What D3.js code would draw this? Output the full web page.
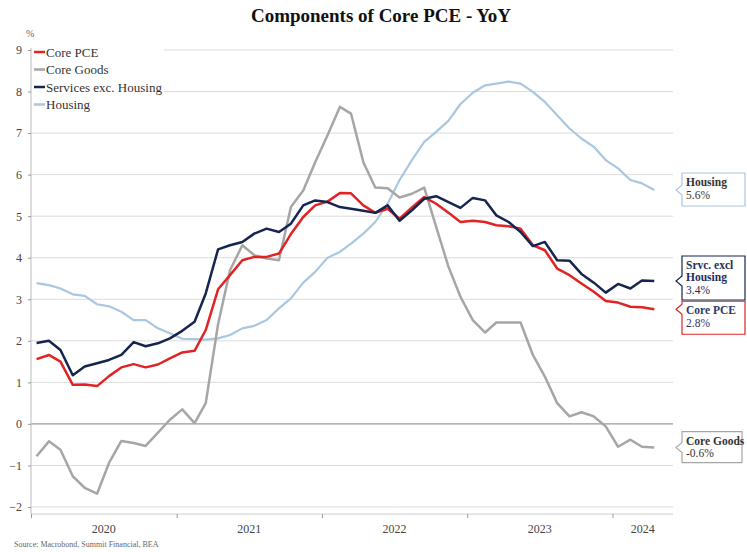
<!DOCTYPE html>
<html>
<head>
<meta charset="utf-8">
<script src="https://cdn.jsdelivr.net/npm/d3@7"></script>
<style>
  body { margin: 0; background: #fff; }
  svg { font-family: "Liberation Serif", "DejaVu Serif", serif; }
</style>
</head>
<body>
<svg id="chart" width="747" height="552"></svg>
<script>
// monthly, Jan 2020 .. Apr 2024
const start_month = new Date(2020, 0, 15);

const core_pce = [1.56, 1.66, 1.50, 0.94, 0.95, 0.91, 1.15, 1.36, 1.44, 1.36, 1.43, 1.58,
    1.72, 1.76, 2.26, 3.24, 3.58, 3.94, 4.02, 4.02, 4.10, 4.57, 4.98, 5.26,
    5.35, 5.56, 5.55, 5.26, 5.08, 5.18, 4.94, 5.21, 5.46, 5.30, 5.08, 4.86,
    4.89, 4.86, 4.78, 4.76, 4.70, 4.30, 4.18, 3.74, 3.58, 3.38, 3.18, 2.96,
    2.92, 2.82, 2.81, 2.76];

const core_goods = [-0.78, -0.42, -0.62, -1.26, -1.54, -1.68, -0.94, -0.41, -0.46, -0.53, -0.21, 0.10,
    0.35, 0.02, 0.50, 2.40, 3.70, 4.30, 4.06, 3.98, 3.94, 5.22, 5.62, 6.30,
    6.95, 7.63, 7.47, 6.30, 5.69, 5.67, 5.45, 5.54, 5.69, 4.74, 3.78, 3.06,
    2.50, 2.20, 2.44, 2.44, 2.44, 1.66, 1.14, 0.50, 0.18, 0.28, 0.18, -0.06,
    -0.55, -0.38, -0.55, -0.57];

const services_ex_housing = [1.95, 2.00, 1.78, 1.17, 1.38, 1.46, 1.54, 1.66, 1.97, 1.87, 1.94, 2.06,
    2.24, 2.46, 3.14, 4.20, 4.30, 4.38, 4.58, 4.70, 4.62, 4.82, 5.26, 5.38,
    5.34, 5.22, 5.18, 5.13, 5.08, 5.26, 4.89, 5.14, 5.42, 5.48, 5.34, 5.20,
    5.44, 5.38, 5.02, 4.86, 4.62, 4.28, 4.38, 3.94, 3.93, 3.61, 3.40, 3.16,
    3.37, 3.26, 3.45, 3.44];

const housing = [3.39, 3.34, 3.26, 3.12, 3.08, 2.88, 2.83, 2.70, 2.50, 2.50, 2.30, 2.18,
    2.05, 2.04, 2.03, 2.06, 2.14, 2.30, 2.36, 2.50, 2.78, 3.02, 3.40, 3.66,
    4.00, 4.14, 4.34, 4.58, 4.86, 5.30, 5.87, 6.35, 6.79, 7.03, 7.30, 7.70,
    7.97, 8.15, 8.19, 8.24, 8.19, 7.99, 7.75, 7.43, 7.11, 6.87, 6.67, 6.35,
    6.15, 5.87, 5.79, 5.63];

const series_names = ["Core PCE", "Core Goods", "Services exc. Housing", "Housing"];
const series_colors = ["#e02424", "#a6a6a6", "#16254f", "#a9c7e0"];
const label_names = ["Core PCE", "Core Goods", "Srvc. excl\nHousing", "Housing"];
const label_text_colors = ["#2b3a68", "#333333", "#1f2d5a", "#333333"];
const y_ticks = [-2, -1, 0, 1, 2, 3, 4, 5, 6, 7, 8, 9];
const year_labels = ["2020", "2021", "2022", "2023", "2024"];

const all_series = [core_pce, core_goods, services_ex_housing, housing];

const svg = d3.select("#chart");

const x = d3.scaleTime()
    .domain([new Date(2020, 0, 1), new Date(2024, 5, 1)])
    .range([31, 673]);
const y = d3.scaleLinear().domain([-2, 9]).range([507, 50]);

function month_date(i) {
    return d3.timeMonth.offset(start_month, i);
}

// title
svg.append("text")
    .attr("x", 381).attr("y", 22)
    .attr("text-anchor", "middle")
    .style("font-size", "19px").style("font-weight", "bold")
    .style("fill", "#111")
    .text("Components of Core PCE - YoY");

svg.append("text")
    .attr("x", 26).attr("y", 37)
    .style("font-size", "10px").style("fill", "#666")
    .text("%");

// grid
svg.append("g")
    .selectAll("line")
    .data(y_ticks)
    .join("line")
    .attr("x1", 31).attr("x2", 673)
    .attr("y1", d => y(d)).attr("y2", d => y(d))
    .style("stroke", d => d === 0 ? "#9a9a9a" : "#dcdcdc")
    .style("stroke-width", d => d === 0 ? 1.3 : 1);

// y axis
const y_axis = svg.append("g")
    .attr("transform", "translate(31,0)")
    .call(d3.axisLeft(y).tickValues(y_ticks).tickSize(3).tickPadding(6));
y_axis.select(".domain").attr("d", "M0," + y(9.05) + "V" + y(-2.17)).style("stroke", "#bbb");
y_axis.selectAll(".tick line").style("stroke", "#999");
y_axis.selectAll(".tick text")
    .style("font-family", "'Liberation Serif', serif")
    .style("font-size", "12px").style("fill", "#444");

// x axis
const axis_y = y(-2.17);
const year_starts = year_labels.map(s => new Date(+s, 0, 1));
const x_axis = svg.append("g")
    .attr("transform", "translate(0," + axis_y + ")")
    .call(d3.axisBottom(x).tickValues(year_starts).tickSize(4).tickFormat(""));
x_axis.select(".domain").attr("d", "M31,0H673").style("stroke", "#ccc");
x_axis.selectAll(".tick line").style("stroke", "#999");

svg.append("g")
    .selectAll("text")
    .data(year_labels)
    .join("text")
    .attr("x", (d, i) => {
        const a = x(new Date(+d, 0, 1));
        const b = Math.min(x(new Date(+d + 1, 0, 1)), 673);
        return (a + b) / 2;
    })
    .attr("y", axis_y + 19)
    .attr("text-anchor", "middle")
    .style("font-size", "12px").style("fill", "#444")
    .text(d => d);

// lines
const line = d3.line()
    .x((d, i) => x(month_date(i)))
    .y(d => y(d));

const draw_order = [3, 1, 0, 2];
draw_order.forEach(k => {
    svg.append("path")
        .datum(all_series[k])
        .attr("d", line)
        .style("fill", "none")
        .style("stroke", series_colors[k])
        .style("stroke-width", k === 3 ? 2.2 : 2.5)
        .style("stroke-linejoin", "round");
});

// legend
svg.append("rect")
    .attr("x", 32).attr("y", 43).attr("width", 132).attr("height", 70)
    .style("fill", "#fff");
const legend = svg.append("g")
    .selectAll("g")
    .data(series_names)
    .join("g")
    .attr("transform", (d, i) => "translate(34," + (52 + i * 17.5) + ")");
legend.append("line")
    .attr("x1", 0).attr("x2", 11)
    .style("stroke", (d, i) => series_colors[i])
    .style("stroke-width", 2.5);
legend.append("text")
    .attr("x", 12).attr("y", 4.5)
    .style("font-size", "13px").style("fill", "#333")
    .text(d => d);

// end callouts
const box_top_offset = [-8, -16, -25, -17];
const box_height = [33, 31, 44, 33];
const box_width = [63, 60, 63, 63];
const box_left = 682;
const fmt = v => d3.format(".1f")(v).replace("\u2212", "-") + "%";

all_series.forEach((vals, k) => {
    const last = vals[vals.length - 1];
    const py = y(last);
    const top = py + box_top_offset[k];
    const h = box_height[k];
    const w = box_width[k];
    const p = d3.path();
    p.moveTo(box_left, top);
    p.lineTo(box_left + w, top);
    p.lineTo(box_left + w, top + h);
    p.lineTo(box_left, top + h);
    p.lineTo(box_left, py + 5);
    p.lineTo(box_left - 6, py);
    p.lineTo(box_left, py - 5);
    p.closePath();
    svg.append("path")
        .attr("d", p.toString())
        .style("fill", "#fff")
        .style("stroke", series_colors[k])
        .style("stroke-width", 1.2);

    const rows = label_names[k].split("\n").concat([fmt(last)]);
    svg.append("g")
        .selectAll("text")
        .data(rows)
        .join("text")
        .attr("x", box_left + 4)
        .attr("y", (d, i) => top + 13 + i * 12.5)
        .style("font-size", "11.5px")
        .style("font-weight", (d, i) => i < rows.length - 1 ? "bold" : "normal")
        .style("fill", label_text_colors[k])
        .text(d => d);
});

// source
svg.append("text")
    .attr("x", 14).attr("y", 547)
    .style("font-size", "8px").style("fill", "#666")
    .text("Source: Macrobond, Summit Financial, BEA");
</script>
</body>
</html>
